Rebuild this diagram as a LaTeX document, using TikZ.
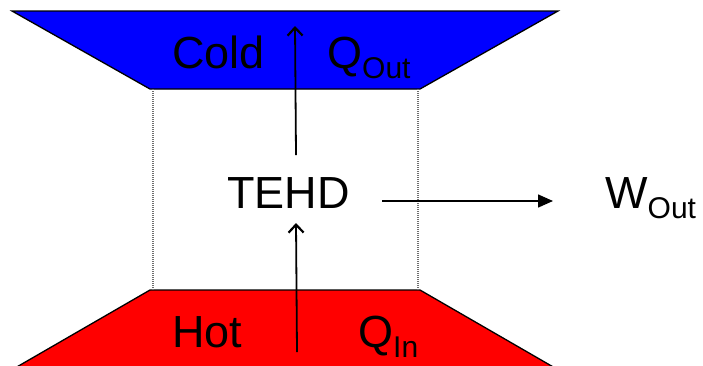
\documentclass[tikz,border=0pt]{standalone}
\usepackage{fontspec}
\setmainfont{Liberation Sans}
\usetikzlibrary{arrows.meta}
\definecolor{coldblue}{RGB}{0,0,255}
\definecolor{hotred}{RGB}{255,0,0}
\definecolor{guidegray}{RGB}{110,110,110}
\newcommand{\subtxt}[1]{\raisebox{-10.5pt}{\fontsize{30}{32}\selectfont #1}}
\begin{document}
\begin{tikzpicture}[x=1pt,y=-1pt,
  reservoir/.style={draw=black,line width=1.3pt,line join=miter},
  guide/.style={draw=guidegray,line width=1.1pt,dash pattern=on 1pt off 1pt},
  flow/.style={draw=black,line width=1.8pt,-{Straight Barb[length=8pt,width=15pt,line width=2.2pt]}},
  work/.style={draw=black,line width=1.5pt,-{Triangle[length=15pt,width=13pt]}},
  lbl/.style={inner sep=0pt,anchor=base west,font=\fontsize{45}{50}\selectfont}]
\useasboundingbox (0,0) rectangle (703,365);
\fill[white] (0,0) rectangle (703,365);
% reservoirs
\filldraw[reservoir,fill=coldblue] (12,11) -- (558,11) -- (420,89) -- (150,89) -- cycle;
\fill[hotred] (150,290) -- (420,290) -- (555,368) -- (15,368) -- cycle;
\draw[reservoir] (15,368) -- (150,290) -- (420,290) -- (555,368);
% guides
\draw[guide] (153,89) -- (153,290);
\draw[guide] (418,89) -- (418,290);
% texts
\node[lbl] (cold) at (172,68) {Cold};
\node[lbl] (qout) at (327,68) {Q\subtxt{Out}};
\node[lbl] (hot) at (172,347) {Hot};
\node[lbl] (qin) at (358,347) {Q\subtxt{In}};
\node[lbl] (tehd) at (227,208) {TEHD};
\node[lbl] (wout) at (605,208) {W\subtxt{Out}};
% connectors
\coordinate (upstart) at (296,155);
\coordinate (uptip) at (295,26);
\coordinate (instart) at (297,352);
\coordinate (intip) at (296,223);
\coordinate (wstart) at (382,201);
\coordinate (wtip) at (553,201);
\draw[flow] (upstart) -- (uptip);
\draw[flow] (instart) -- (intip);
\draw[work] (wstart) -- (wtip);
\end{tikzpicture}
\end{document}
